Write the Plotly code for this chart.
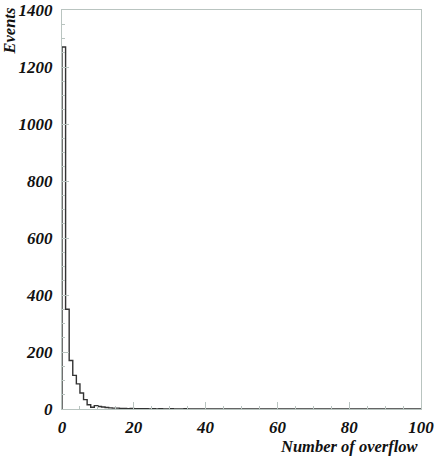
import numpy as np
import plotly.graph_objects as go

# events per unit bin of "number of overflow", bins 0..99
counts = [1270, 350, 170, 118, 88, 56, 33, 15, 6, 12,
          9, 7, 5, 4, 3, 3, 2, 2, 1, 2,
          1, 1, 1, 1, 0, 1, 0, 1, 0, 0,
          1, 0, 0, 0, 1, 0, 0, 0, 0, 0]
counts = counts + [0] * (100 - len(counts))
bin_edges = np.arange(0, len(counts) + 1)

y_ticks = [0, 200, 400, 600, 800, 1000, 1200, 1400]
x_ticks = [0, 20, 40, 60, 80, 100]

font_bi = dict(family="Liberation Serif", size=16.5, color="#111", weight="bold", style="italic")
tick_font = dict(font_bi, size=17)

# step outline of the histogram
xs = list(bin_edges)
ys = counts + [counts[-1]]

fig = go.Figure()
fig.add_trace(go.Scatter(
    x=[0] + xs, y=[0] + ys,
    mode="lines", line_shape="hv",
    line=dict(color="#333333", width=1.4),
    hoverinfo="skip", showlegend=False,
))

axis_common = dict(
    showgrid=False, zeroline=False, automargin=False,
    showline=True, linecolor="#b9c4c0", linewidth=1.3, mirror=True,
    ticks="inside", tickcolor="#b9c4c0", ticklen=7, tickwidth=1,
    tickfont=tick_font,
)

fig.update_xaxes(range=[0, 100], tickvals=x_ticks, ticklabelstandoff=2,
                 minor=dict(ticks="inside", dtick=5, ticklen=3, tickcolor="#b9c4c0"),
                 **axis_common)
fig.update_yaxes(range=[0, 1400], tickvals=y_ticks, ticklabelstandoff=5,
                 minor=dict(ticks="inside", dtick=50, ticklen=3, tickcolor="#b9c4c0"),
                 **axis_common)

fig.add_annotation(text="Events", xref="paper", yref="paper",
                   x=-0.145, y=1.0125, xanchor="center", yanchor="top",
                   textangle=-90, showarrow=False, font=font_bi)
fig.add_annotation(text="Number of overflow", xref="paper", yref="paper",
                   x=1.0, y=-0.066, xanchor="right", yanchor="top",
                   showarrow=False, font=font_bi)

fig.update_layout(
    width=436, height=456,
    margin=dict(l=62, r=15, t=10, b=47),
    plot_bgcolor="white", paper_bgcolor="white",
)

# drop the default page margin so the figure sits at the window's corner
fig.write_html("out.html", config={"displayModeBar": False},
               post_script="document.body.style.margin='0';")
